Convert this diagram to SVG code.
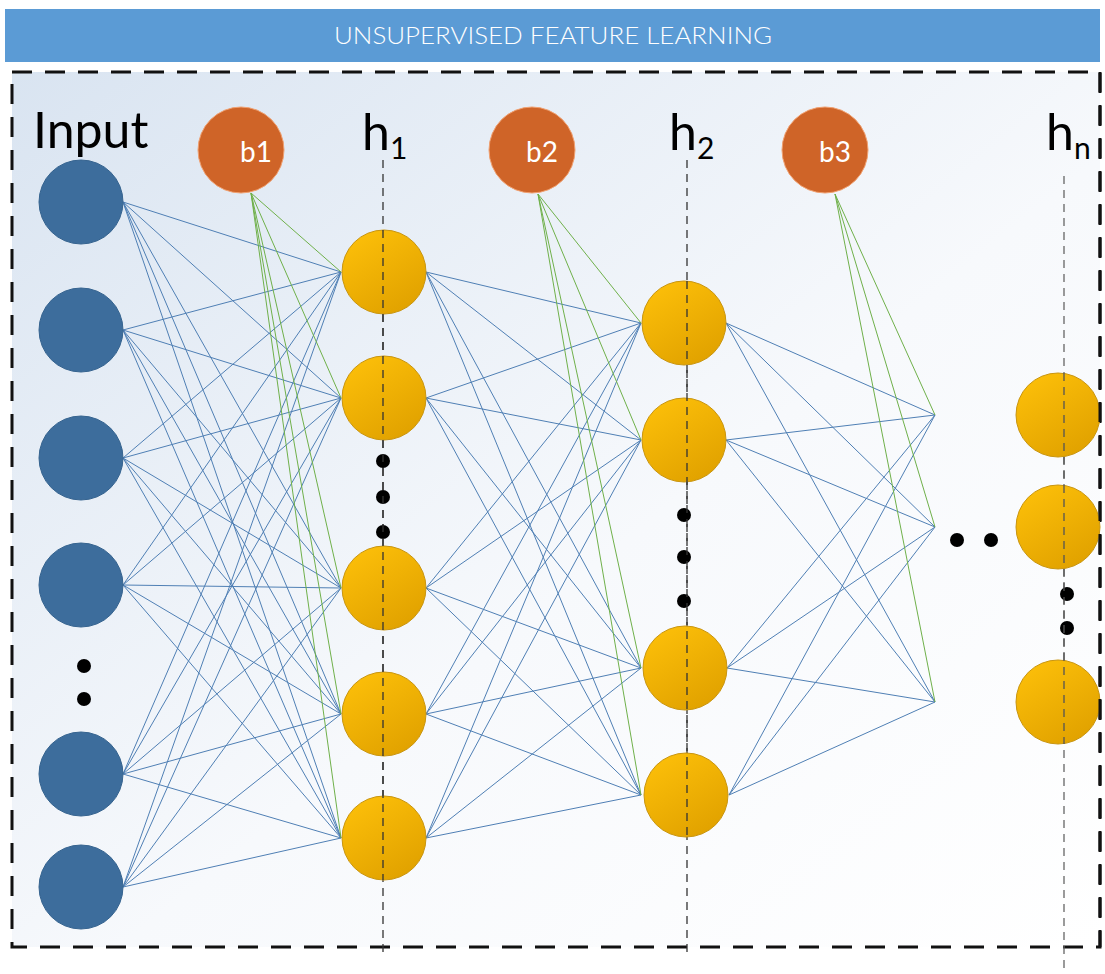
<svg xmlns="http://www.w3.org/2000/svg" width="1105" height="974" viewBox="0 0 1105 974">
<defs>
<linearGradient id="bg" x1="0" y1="0" x2="1" y2="1">
<stop offset="0" stop-color="#d9e4f1"/>
<stop offset="0.55" stop-color="#f7f9fc"/>
<stop offset="1" stop-color="#ffffff"/>
</linearGradient>
<linearGradient id="yel" x1="0" y1="0" x2="0.6" y2="1">
<stop offset="0" stop-color="#ffc20a"/>
<stop offset="1" stop-color="#e2a300"/>
</linearGradient>
<style>
.inp{fill:#3d6d9c;stroke:#35638f;stroke-width:1}
.bias{fill:#cf6428;stroke:#f0a070;stroke-width:1}
.hid{fill:url(#yel);stroke:#c9950f;stroke-width:1}
.dot{fill:#000}
.bl line{stroke:#4f7fb4;stroke-width:1}
.gr line{stroke:#6fb04a;stroke-width:1}
.vl{stroke:#333;stroke-width:1.3;stroke-dasharray:8 6;fill:none}
.lbl{font-family:Lato,"Noto Sans",sans-serif;fill:#000}
.bt{font-family:Lato,"Noto Sans",sans-serif;fill:#fff;font-size:28px;text-anchor:middle}
</style>
</defs>
<rect x="0" y="0" width="1105" height="974" fill="#ffffff"/>
<rect x="12" y="72" width="1088" height="875" fill="url(#bg)"/>
<g id="banner">
<rect x="5" y="9" width="1095" height="53" fill="#5b9bd5"/>
<text x="553" y="44" font-family="Lato,'Noto Sans',sans-serif" font-size="24" font-weight="300" fill="#fff" text-anchor="middle" textLength="438" lengthAdjust="spacingAndGlyphs">UNSUPERVISED FEATURE LEARNING</text>
</g>
<rect x="12" y="72" width="1088" height="875" fill="none" stroke="#111" stroke-width="3" stroke-dasharray="20 13"/>
<g id="layer-lines">
<line class="vl" x1="383" y1="160" x2="383" y2="958"/>
<line class="vl" x1="687" y1="160" x2="687" y2="957"/>
<line class="vl" x1="1064" y1="176" x2="1064" y2="974" style="stroke:#666"/>
</g>
<g id="connectors">
<g class="bl">
<line x1="123" y1="202" x2="341" y2="272"/><line x1="123" y1="202" x2="341" y2="398"/><line x1="123" y1="202" x2="341" y2="588"/><line x1="123" y1="202" x2="341" y2="714"/><line x1="123" y1="202" x2="341" y2="838"/>
<line x1="123" y1="330" x2="341" y2="272"/><line x1="123" y1="330" x2="341" y2="398"/><line x1="123" y1="330" x2="341" y2="588"/><line x1="123" y1="330" x2="341" y2="714"/><line x1="123" y1="330" x2="341" y2="838"/>
<line x1="123" y1="458" x2="341" y2="272"/><line x1="123" y1="458" x2="341" y2="398"/><line x1="123" y1="458" x2="341" y2="588"/><line x1="123" y1="458" x2="341" y2="714"/><line x1="123" y1="458" x2="341" y2="838"/>
<line x1="123" y1="585" x2="341" y2="272"/><line x1="123" y1="585" x2="341" y2="398"/><line x1="123" y1="585" x2="341" y2="588"/><line x1="123" y1="585" x2="341" y2="714"/><line x1="123" y1="585" x2="341" y2="838"/>
<line x1="123" y1="774" x2="341" y2="272"/><line x1="123" y1="774" x2="341" y2="398"/><line x1="123" y1="774" x2="341" y2="588"/><line x1="123" y1="774" x2="341" y2="714"/><line x1="123" y1="774" x2="341" y2="838"/>
<line x1="123" y1="887" x2="341" y2="272"/><line x1="123" y1="887" x2="341" y2="398"/><line x1="123" y1="887" x2="341" y2="588"/><line x1="123" y1="887" x2="341" y2="714"/><line x1="123" y1="887" x2="341" y2="838"/>
<line x1="426" y1="272" x2="641" y2="323"/><line x1="426" y1="272" x2="641" y2="440"/><line x1="426" y1="272" x2="641" y2="668"/><line x1="426" y1="272" x2="641" y2="795"/>
<line x1="426" y1="398" x2="641" y2="323"/><line x1="426" y1="398" x2="641" y2="440"/><line x1="426" y1="398" x2="641" y2="668"/><line x1="426" y1="398" x2="641" y2="795"/>
<line x1="426" y1="588" x2="641" y2="323"/><line x1="426" y1="588" x2="641" y2="440"/><line x1="426" y1="588" x2="641" y2="668"/><line x1="426" y1="588" x2="641" y2="795"/>
<line x1="426" y1="714" x2="641" y2="323"/><line x1="426" y1="714" x2="641" y2="440"/><line x1="426" y1="714" x2="641" y2="668"/><line x1="426" y1="714" x2="641" y2="795"/>
<line x1="426" y1="838" x2="641" y2="323"/><line x1="426" y1="838" x2="641" y2="440"/><line x1="426" y1="838" x2="641" y2="668"/><line x1="426" y1="838" x2="641" y2="795"/>
<line x1="726" y1="323" x2="935" y2="415"/><line x1="726" y1="323" x2="935" y2="527"/><line x1="726" y1="323" x2="935" y2="702"/>
<line x1="726" y1="440" x2="935" y2="415"/><line x1="726" y1="440" x2="935" y2="527"/><line x1="726" y1="440" x2="935" y2="702"/>
<line x1="727" y1="668" x2="935" y2="415"/><line x1="727" y1="668" x2="935" y2="527"/><line x1="727" y1="668" x2="935" y2="702"/>
<line x1="729" y1="795" x2="935" y2="415"/><line x1="729" y1="795" x2="935" y2="527"/><line x1="729" y1="795" x2="935" y2="702"/>
</g>
<g class="gr">
<line x1="251" y1="193" x2="341" y2="272"/><line x1="251" y1="193" x2="341" y2="398"/><line x1="251" y1="193" x2="341" y2="588"/><line x1="251" y1="193" x2="341" y2="714"/><line x1="251" y1="193" x2="341" y2="838"/>
<line x1="538" y1="194" x2="641" y2="323"/><line x1="538" y1="194" x2="641" y2="440"/><line x1="538" y1="194" x2="641" y2="668"/><line x1="538" y1="194" x2="641" y2="795"/>
<line x1="835" y1="194" x2="935" y2="415"/><line x1="835" y1="194" x2="935" y2="527"/><line x1="835" y1="194" x2="935" y2="702"/>
</g>
</g>
<g id="input-layer">
<text class="lbl" x="33" y="148" font-size="50">Input</text>
<circle id="in1" class="inp" cx="81" cy="202" r="42"/>
<circle id="in2" class="inp" cx="81" cy="330" r="42"/>
<circle id="in3" class="inp" cx="81" cy="458" r="42"/>
<circle id="in4" class="inp" cx="81" cy="585" r="42"/>
<circle class="dot" cx="84" cy="666" r="7"/>
<circle class="dot" cx="84" cy="699" r="7"/>
<circle id="in5" class="inp" cx="81" cy="774" r="42"/>
<circle id="in6" class="inp" cx="81" cy="887" r="42"/>
</g>
<g id="b1"><circle class="bias" cx="241" cy="150" r="43"/><text class="bt" x="256" y="162">b1</text></g>
<g id="b2"><circle class="bias" cx="532" cy="150" r="43"/><text class="bt" x="542" y="162">b2</text></g>
<g id="b3"><circle class="bias" cx="825" cy="150" r="43"/><text class="bt" x="835" y="162">b3</text></g>
<g id="h1">
<text class="lbl" x="362" y="150" font-size="50">h<tspan font-size="30" dy="9">1</tspan></text>
<circle class="hid" cx="384" cy="272" r="42"/>
<circle class="hid" cx="384" cy="398" r="42"/>
<circle class="dot" cx="383" cy="461" r="7"/>
<circle class="dot" cx="383" cy="497" r="7"/>
<circle class="dot" cx="383" cy="532" r="7"/>
<circle class="hid" cx="384" cy="588" r="42"/>
<circle class="hid" cx="384" cy="714" r="42"/>
<circle class="hid" cx="384" cy="838" r="42"/>
</g>
<g id="h2">
<text class="lbl" x="669" y="150" font-size="50">h<tspan font-size="30" dy="9">2</tspan></text>
<circle class="hid" cx="684" cy="323" r="42"/>
<circle class="hid" cx="684" cy="440" r="42"/>
<circle class="dot" cx="684" cy="515" r="7"/>
<circle class="dot" cx="684" cy="557" r="7"/>
<circle class="dot" cx="684" cy="601" r="7"/>
<circle class="hid" cx="685" cy="668" r="42"/>
<circle class="hid" cx="686" cy="795" r="42"/>
</g>
<g id="gap-dots">
<circle class="dot" cx="957" cy="540" r="7"/>
<circle class="dot" cx="991" cy="540" r="7"/>
</g>
<g id="hn">
<text class="lbl" x="1046" y="150" font-size="50">h<tspan font-size="30" dy="9">n</tspan></text>
<circle class="hid" cx="1058" cy="415" r="42"/>
<circle class="hid" cx="1058" cy="527" r="42"/>
<circle class="dot" cx="1067" cy="594" r="7"/>
<circle class="dot" cx="1067" cy="628" r="7"/>
<circle class="hid" cx="1058" cy="702" r="42"/>
</g>
<g id="overlay-lines">
<line class="vl" x1="383" y1="230" x2="383" y2="880"/>
<line class="vl" x1="687" y1="281" x2="687" y2="837"/>
<line class="vl" x1="1064" y1="373" x2="1064" y2="744" style="stroke:#555"/>
<line x1="1100" y1="72" x2="1100" y2="947" stroke="#111" stroke-width="3" stroke-dasharray="20 13"/>
</g>
</svg>
